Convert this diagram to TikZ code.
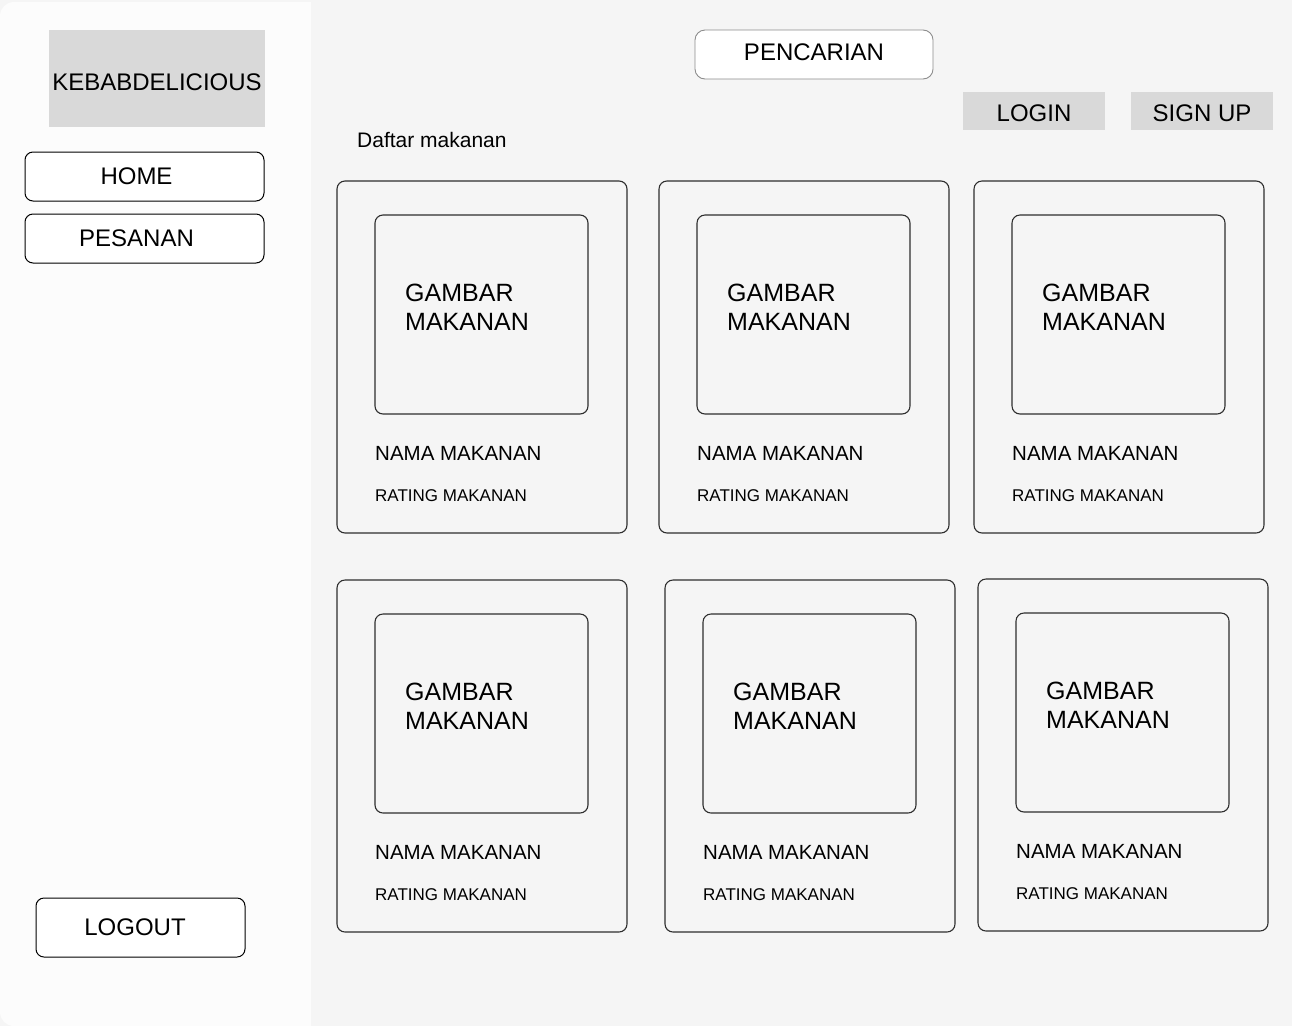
\documentclass[tikz,border=0pt]{standalone}
\usepackage{fontspec}
\setmainfont{Liberation Sans}
\usetikzlibrary{positioning}
\definecolor{pagebg}{HTML}{F5F5F5}
\definecolor{sidebg}{HTML}{FCFCFC}
\definecolor{boxgray}{HTML}{D9D9D9}
\definecolor{edgegray}{HTML}{2E2E2E}
\definecolor{searchedge}{HTML}{8C8C8C}

\begin{document}
\begin{tikzpicture}[x=1pt,y=-1pt,
  menubtn/.style={draw=black,fill=white,rounded corners=8pt,line width=1pt,inner sep=0pt,
    minimum width=239pt,minimum height=49pt,font=\fontsize{24}{29}\selectfont},
  graybtn/.style={fill=boxgray,inner sep=0pt,minimum width=142pt,minimum height=38pt,
    text height=21pt,font=\fontsize{24}{29}\selectfont},
  card/.style={draw=edgegray,rounded corners=8pt,line width=1.1pt,minimum width=290pt,minimum height=352pt},
  picbox/.style={draw=edgegray,rounded corners=8pt,line width=1.1pt,minimum width=213pt,minimum height=199pt},
  gambar/.style={anchor=north west,inner sep=0pt,align=left,font=\fontsize{25}{29}\selectfont},
  nama/.style={anchor=west,inner sep=0pt,font=\fontsize{20.5}{24}\selectfont},
  rating/.style={anchor=west,inner sep=0pt,font=\fontsize{17}{20}\selectfont}]
\useasboundingbox (0,0) rectangle (1292,1026);
\fill[pagebg] (0,0) rectangle (1292,1026);

% sidebar
\fill[sidebg,rounded corners=14pt] (0,2) rectangle (311,1026);
\fill[sidebg] (280,2) rectangle (311,1026);

\node[fill=boxgray,minimum width=216pt,minimum height=97pt,inner sep=0pt,text height=24pt,
  font=\fontsize{24}{29}\selectfont] (logo) at (157,78.5) {KEBABDELICIOUS};
\node[menubtn] (home) at (144.5,176.5) {HOME\hspace*{16pt}};
\node[menubtn] (pesanan) at (144.5,238.5) {PESANAN\hspace*{16pt}};
\node[menubtn,minimum width=209pt,minimum height=59pt] (logout) at (140.5,927.5) {LOGOUT\hspace*{11pt}};

% header
\node[menubtn,draw=searchedge,line width=0.9pt,rounded corners=10pt,minimum width=238pt,text depth=5pt] (cari) at (814,54.5) {PENCARIAN};
\node[graybtn] (login) at (1034,111) {LOGIN};
\node[graybtn] (signup) at (1202,111) {SIGN UP};
\node[anchor=west,inner sep=0pt,font=\fontsize{21}{25}\selectfont] (daftar) at (357,140) {Daftar makanan};

% baris 1
\node[card] (C1) at (482,357) {};
\node[picbox] (P1) at (481.5,314.5) {};
\node[gambar] (G1) at (405,284) {GAMBAR\\MAKANAN};
\node[nama] (N1) at (375,453) {NAMA MAKANAN};
\node[rating] (R1) at (375,496) {RATING MAKANAN};

\node[card] (C2) at (804,357) {};
\node[picbox] (P2) at (803.5,314.5) {};
\node[gambar] (G2) at (727,284) {GAMBAR\\MAKANAN};
\node[nama] (N2) at (697,453) {NAMA MAKANAN};
\node[rating] (R2) at (697,496) {RATING MAKANAN};

\node[card] (C3) at (1119,357) {};
\node[picbox] (P3) at (1118.5,314.5) {};
\node[gambar] (G3) at (1042,284) {GAMBAR\\MAKANAN};
\node[nama] (N3) at (1012,453) {NAMA MAKANAN};
\node[rating] (R3) at (1012,496) {RATING MAKANAN};

% baris 2
\node[card] (C4) at (482,756) {};
\node[picbox] (P4) at (481.5,713.5) {};
\node[gambar] (G4) at (405,683) {GAMBAR\\MAKANAN};
\node[nama] (N4) at (375,852) {NAMA MAKANAN};
\node[rating] (R4) at (375,895) {RATING MAKANAN};

\node[card] (C5) at (810,756) {};
\node[picbox] (P5) at (809.5,713.5) {};
\node[gambar] (G5) at (733,683) {GAMBAR\\MAKANAN};
\node[nama] (N5) at (703,852) {NAMA MAKANAN};
\node[rating] (R5) at (703,895) {RATING MAKANAN};

\node[card] (C6) at (1123,755) {};
\node[picbox] (P6) at (1122.5,712.5) {};
\node[gambar] (G6) at (1046,682) {GAMBAR\\MAKANAN};
\node[nama] (N6) at (1016,851) {NAMA MAKANAN};
\node[rating] (R6) at (1016,894) {RATING MAKANAN};

\end{tikzpicture}
\end{document}
